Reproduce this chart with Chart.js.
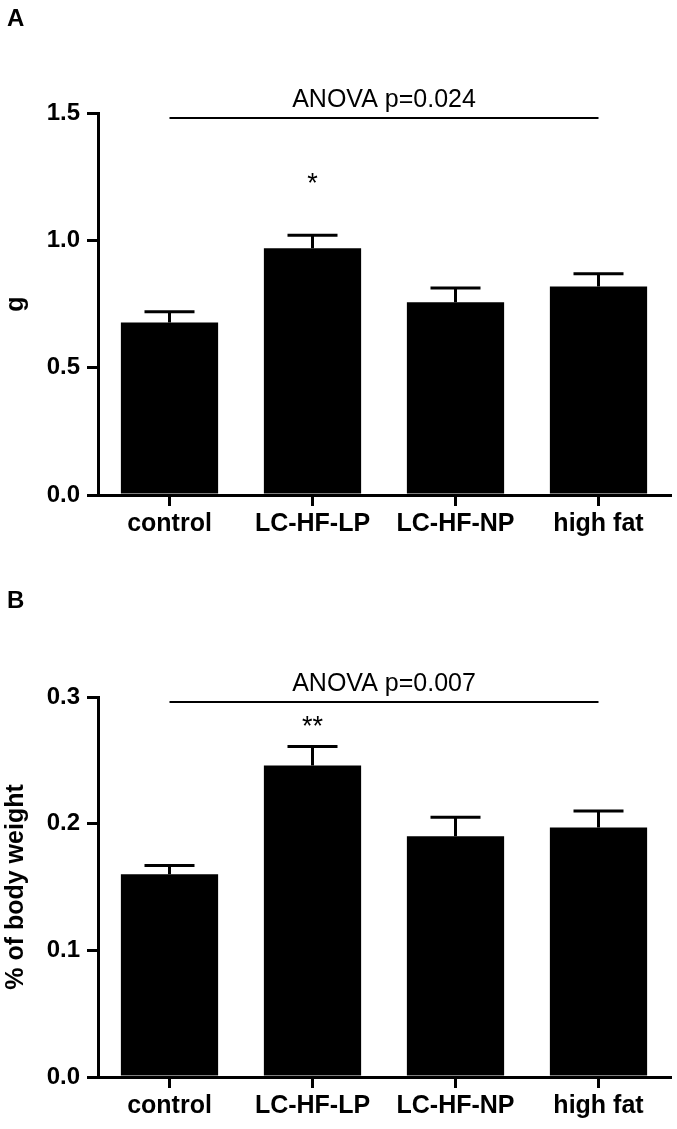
<!DOCTYPE html>
<html>
<head>
<meta charset="utf-8">
<script src="https://cdn.jsdelivr.net/npm/chart.js@4/dist/chart.umd.min.js"></script>
<style>
  body { margin: 0; background: #fff; }
  #wrap { position: relative; width: 677px; height: 1129px; }
  canvas { position: absolute; left: 0; }
</style>
</head>
<body>
<div id="wrap">
  <canvas id="chartWeight" width="677" height="565" style="top:0"></canvas>
  <canvas id="chartPercent" width="677" height="564" style="top:565px"></canvas>
</div>
<script>
const groups = ['control', 'LC-HF-LP', 'LC-HF-NP', 'high fat'];

// panel A: organ weight, g (mean and SEM)
const weightMean = [0.677, 0.969, 0.757, 0.819];
const weightSem = [0.043, 0.051, 0.056, 0.050];
const weightTicks = [0, 0.5, 1.0, 1.5];
const weightStars = ['', '*', '', ''];
const weightAnova = 'ANOVA p=0.024';

// panel B: % of body weight (mean and SEM)
const pctMean = [0.160, 0.246, 0.190, 0.197];
const pctSem = [0.007, 0.015, 0.015, 0.013];
const pctTicks = [0, 0.1, 0.2, 0.3];
const pctStars = ['', '**', '', ''];
const pctAnova = 'ANOVA p=0.007';

const FONT = 'Arial, "Liberation Sans", sans-serif';

// error bars, ANOVA line, stars and panel letter
const extras = {
  id: 'extras',
  afterDatasetsDraw(chart, args, opts) {
    const ctx = chart.ctx;
    const xs = chart.scales.x, ys = chart.scales.y;
    const bars = chart.getDatasetMeta(0).data;
    ctx.save();
    ctx.strokeStyle = '#000';
    ctx.fillStyle = '#000';
    ctx.lineWidth = 3;
    bars.forEach((bar, i) => {
      const top = ys.getPixelForValue(opts.means[i] + opts.sems[i]);
      ctx.beginPath();
      ctx.moveTo(bar.x, bar.y);
      ctx.lineTo(bar.x, top);
      ctx.moveTo(bar.x - 25, top);
      ctx.lineTo(bar.x + 25, top);
      ctx.stroke();
    });

    const lineY = chart.chartArea.top + 5;
    const x0 = xs.getPixelForValue(0), x1 = xs.getPixelForValue(groups.length - 1);
    ctx.lineWidth = 2;
    ctx.beginPath();
    ctx.moveTo(x0, lineY);
    ctx.lineTo(x1, lineY);
    ctx.stroke();

    ctx.font = '25px ' + FONT;
    ctx.textAlign = 'center';
    ctx.textBaseline = 'alphabetic';
    ctx.fillText(opts.anova, (x0 + x1) / 2, lineY - 11);

    ctx.font = '27px ' + FONT;
    opts.stars.forEach((s, i) => {
      if (!s) return;
      ctx.fillText(s, xs.getPixelForValue(i), ys.getPixelForValue(opts.starAt) + 15);
    });

    ctx.font = 'bold 24px ' + FONT;
    ctx.textAlign = 'left';
    ctx.fillText(opts.letter, 7, opts.letterY);
    ctx.restore();
  }
};

function makeChart(id, means, sems, ticks, stars, anova, yTitle, letter, letterY, starAt, padTop, xHeight) {
  return new Chart(document.getElementById(id), {
    type: 'bar',
    data: {
      labels: groups,
      datasets: [{
        data: means,
        backgroundColor: '#000',
        borderWidth: 0,
        categoryPercentage: 1,
        barPercentage: 0.68
      }]
    },
    options: {
      responsive: false,
      animation: false,
      layout: { padding: { top: padTop, right: 7, left: 0, bottom: 0 } },
      plugins: {
        legend: { display: false },
        tooltip: { enabled: false },
        extras: { means, sems, stars, anova, letter, letterY, starAt }
      },
      scales: {
        x: {
          offset: true,
          afterFit: s => { s.height = xHeight; },
          grid: { display: true, offset: false, drawOnChartArea: false, drawTicks: true, tickLength: 11, lineWidth: 3, color: '#000' },
          border: { display: true, width: 3, color: '#000' },
          ticks: { color: '#000', padding: 3, font: { family: FONT, size: 25, weight: 'bold' } }
        },
        y: {
          min: ticks[0],
          max: ticks[ticks.length - 1],
          afterFit: s => { s.width = 98; },
          afterBuildTicks: s => { s.ticks = ticks.map(v => ({ value: v })); },
          grid: { display: true, drawOnChartArea: false, drawTicks: true, tickLength: 11, lineWidth: 3, color: '#000' },
          border: { display: true, width: 3, color: '#000' },
          ticks: {
            color: '#000',
            padding: 7,
            font: { family: FONT, size: 24, weight: 'bold' },
            callback: v => Number(v).toFixed(1)
          },
          title: {
            display: true,
            text: yTitle,
            color: '#000',
            padding: { top: 1, bottom: 0 },
            font: { family: FONT, size: 25, weight: 'bold' }
          }
        }
      }
    },
    plugins: [extras]
  });
}

makeChart('chartWeight', weightMean, weightSem, weightTicks, weightStars, weightAnova,
  'g', 'A', 26, 1.25, 113, 70);
makeChart('chartPercent', pctMean, pctSem, pctTicks, pctStars, pctAnova,
  '% of body weight', 'B', 43, 0.282, 132, 52);
</script>
</body>
</html>
